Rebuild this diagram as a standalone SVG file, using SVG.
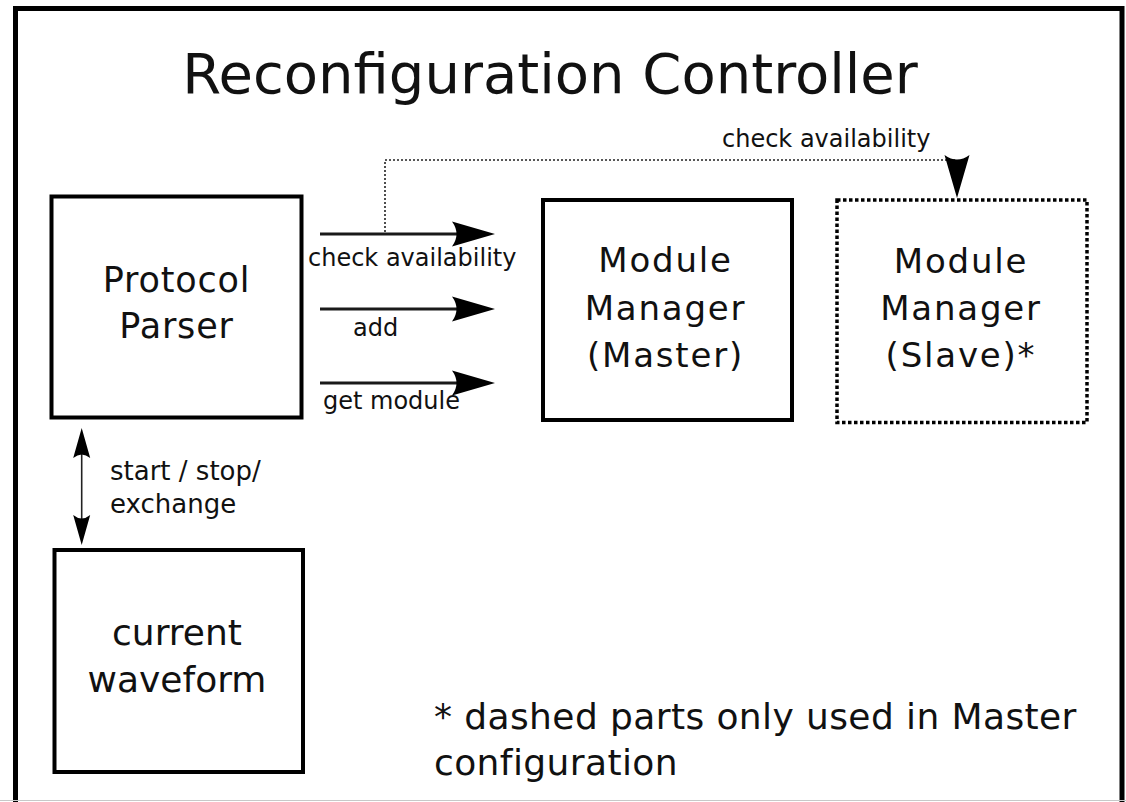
<svg xmlns="http://www.w3.org/2000/svg" width="1126" height="802" viewBox="0 0 1126 802">
<style>
text{font-family:"DejaVu Sans","Noto Sans",sans-serif;fill:#111}
.box{fill:#fff;stroke:#000;stroke-width:4}
.dotbox{fill:#fff;stroke:#000;stroke-width:3.5;stroke-dasharray:3.5 2.5}
.node{font-size:34px;letter-spacing:1.8px;text-anchor:middle}
.lbl{font-size:24px}
.arr{fill:none;stroke:#1a1a1a;stroke-width:3;marker-end:url(#dart)}
</style>
<defs>
<marker id="dart" viewBox="0 -13 44 26" markerWidth="44" markerHeight="26" markerUnits="userSpaceOnUse" refX="23" refY="0" orient="auto">
<path d="M43,0 L0,-12.5 Q9,0 0,12.5 Z" fill="#000"/>
</marker>
<marker id="dartS" viewBox="0 -9 31 18" markerWidth="31" markerHeight="18" markerUnits="userSpaceOnUse" refX="15" refY="0" orient="auto-start-reverse">
<path d="M30,0 L0,-8.5 Q7,0 0,8.5 Z" fill="#000"/>
</marker>
</defs>
<rect width="1126" height="802" fill="#fff"/>
<g id="frame">
<rect x="15.5" y="8.5" width="1106.5" height="820" fill="none" stroke="#000" stroke-width="5"/>
<line x1="0" y1="800.5" x2="1126" y2="800.5" stroke="#c8c8c8" stroke-width="1"/>
</g>
<g id="title"><text x="550" y="93" font-size="56" text-anchor="middle">Reconfiguration Controller</text></g>
<g id="connectors">
<path class="arr" d="M320,234 H475"/>
<path class="arr" d="M320,309 H475"/>
<path class="arr" d="M320,383 H475"/>
<path d="M385,232 V160 H957 V178" fill="none" stroke="#222" stroke-width="1.6" stroke-dasharray="2 2" marker-end="url(#dart)"/>
<path d="M81.7,443 V530" fill="none" stroke="#222" stroke-width="1.6" marker-start="url(#dartS)" marker-end="url(#dartS)"/>
<text class="lbl" x="308" y="266">check availability</text>
<text class="lbl" x="353" y="336">add</text>
<text class="lbl" x="323" y="409">get module</text>
<text class="lbl" x="722" y="147">check availability</text>
<text x="110" y="480" font-size="26">start / stop/</text>
<text x="110" y="513" font-size="26">exchange</text>
</g>
<g id="protocol-parser">
<rect class="box" x="51.5" y="196.5" width="250" height="221"/>
<text x="176.5" y="292" font-size="35" letter-spacing="0.8" text-anchor="middle">Protocol</text>
<text x="176.5" y="338" font-size="35" letter-spacing="0.8" text-anchor="middle">Parser</text>
</g>
<g id="module-manager-master">
<rect class="box" x="543" y="200" width="249" height="220"/>
<text class="node" x="665.5" y="272">Module</text>
<text class="node" x="665.5" y="320">Manager</text>
<text class="node" x="665.5" y="367">(Master)</text>
</g>
<g id="module-manager-slave">
<rect class="dotbox" x="837" y="200" width="250" height="222.5"/>
<text class="node" x="961" y="273">Module</text>
<text class="node" x="961" y="320">Manager</text>
<text class="node" x="961" y="367">(Slave)*</text>
</g>
<g id="current-waveform">
<rect class="box" x="54.5" y="550" width="248.5" height="222"/>
<text x="177" y="645" font-size="36" text-anchor="middle">current</text>
<text x="177" y="692" font-size="36" text-anchor="middle">waveform</text>
</g>
<g id="footnote">
<text x="434" y="729" font-size="36" letter-spacing="0.4">* dashed parts only used in Master</text>
<text x="434" y="775" font-size="36" letter-spacing="0.4">configuration</text>
</g>
</svg>
